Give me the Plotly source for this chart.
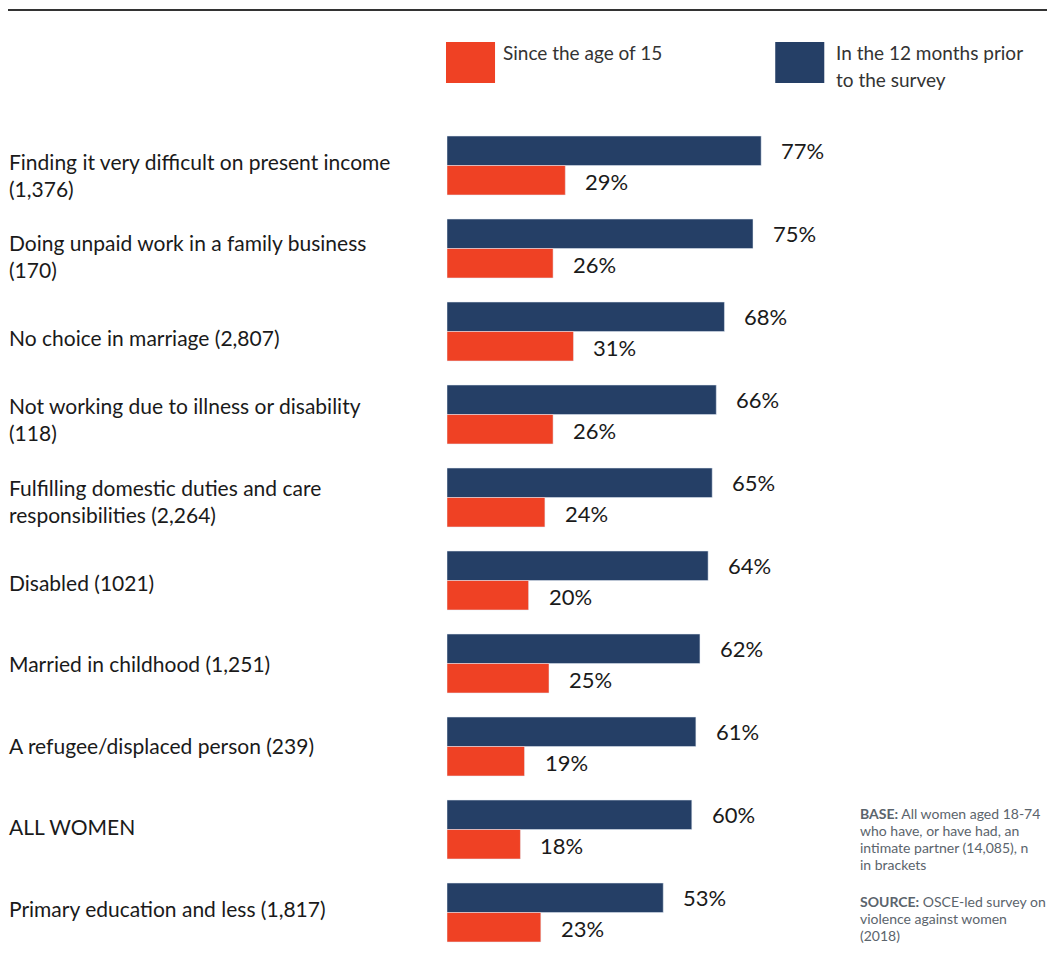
import plotly.graph_objects as go

categories = [
    "Finding it very difficult on present income\n(1,376)",
    "Doing unpaid work in a family business\n(170)",
    "No choice in marriage (2,807)",
    "Not working due to illness or disability\n(118)",
    "Fulfilling domestic duties and care\nresponsibilities (2,264)",
    "Disabled (1021)",
    "Married in childhood (1,251)",
    "A refugee/displaced person (239)",
    "ALL WOMEN",
    "Primary education and less (1,817)",
]
last_12_months = [77, 75, 68, 66, 65, 64, 62, 61, 60, 53]
since_age_15 = [29, 26, 31, 26, 24, 20, 25, 19, 18, 23]

series_names = ["Since the age of 15", "In the 12 months prior\nto the survey"]
base_note = ["<b>BASE:</b> All women aged 18-74", "who have, or have had, an",
             "intimate partner (14,085), n", "in brackets"]
source_note = ["<b>SOURCE:</b> OSCE-led survey on", "violence against women", "(2018)"]

NAVY = "#253F66"
ORANGE = "#EF4124"
FONT = "Lato, 'Open Sans', sans-serif"

OFF = 8  # page body margin
SW, SH = 1055, 966          # screen size
W, H = SW - OFF, SH - OFF   # figure size
L, T = 447 - OFF, 124 - OFF
PW, PH = 407.7, 830
R = W - L - PW
B = H - T - PH


def px_x(x):
    """screen x pixel -> paper"""
    return (x - OFF - L) / PW


def px_y(y):
    """screen y pixel -> paper"""
    return (T + PH - (y - OFF)) / PH


ids = list(range(len(categories)))

fig = go.Figure()
fig.add_trace(go.Bar(y=ids, x=last_12_months, orientation="h", marker_color=NAVY,
                     name=series_names[1], showlegend=False, hoverinfo="x"))
fig.add_trace(go.Bar(y=ids, x=since_age_15, orientation="h", marker_color=ORANGE,
                     name=series_names[0], showlegend=False, hoverinfo="x"))

annotations = []
# value labels
for i in ids:
    annotations.append(dict(x=last_12_months[i], y=i, xref="x", yref="y",
                            text=f"{last_12_months[i]}%", showarrow=False,
                            xanchor="left", yanchor="middle", xshift=18, yshift=15,
                            font=dict(family=FONT, size=22, color="#1a1a1a")))
    annotations.append(dict(x=since_age_15[i], y=i, xref="x", yref="y",
                            text=f"{since_age_15[i]}%", showarrow=False,
                            xanchor="left", yanchor="middle", xshift=18, yshift=-16,
                            font=dict(family=FONT, size=22, color="#1a1a1a")))

# category labels (on overlay axis y2)
for i, lab in enumerate(categories):
    lines = lab.split("\n")
    n = len(lines)
    for j, ln in enumerate(lines):
        annotations.append(dict(x=px_x(7), y=i, xref="paper", yref="y2",
                                text=ln, showarrow=False, xanchor="left",
                                yanchor="middle", yshift=-(j - (n - 1) / 2) * 27,
                                font=dict(family=FONT, size=21, color="#1a1a1a")))

# legend
legend_items = [(446, ORANGE, series_names[0], 501), (775, NAVY, series_names[1], 834)]
shapes = [dict(type="line", xref="paper", yref="paper", x0=px_x(0), x1=px_x(SW + 10),
               y0=px_y(10), y1=px_y(10), line=dict(color="#333333", width=2))]
for x0, col, name, tx in legend_items:
    shapes.append(dict(type="rect", xref="paper", yref="paper", x0=px_x(x0), x1=px_x(x0 + 49),
                       y0=px_y(83), y1=px_y(42), fillcolor=col, line=dict(width=0)))
    for j, ln in enumerate(name.split("\n")):
        annotations.append(dict(x=px_x(tx), y=px_y(53 + 27 * j), xref="paper", yref="paper",
                                text=ln, showarrow=False, xanchor="left", yanchor="middle",
                                font=dict(family=FONT, size=19, color="#333333")))

# notes
NOTE_SP = 16.8
for block, center in ((base_note, 839), (source_note, 918.5)):
    n = len(block)
    for j, ln in enumerate(block):
        annotations.append(dict(x=px_x(858), y=px_y(center + (j - (n - 1) / 2) * NOTE_SP),
                                xref="paper", yref="paper",
                                text=ln, showarrow=False, xanchor="left", yanchor="middle",
                                font=dict(family=FONT, size=14, color="#5b646c")))

fig.update_layout(
    width=W, height=H,
    margin=dict(l=L, r=R, t=T, b=B, pad=0),
    paper_bgcolor="white", plot_bgcolor="white",
    barmode="group", bargap=0.29, bargroupgap=0.0,
    xaxis=dict(range=[0, 100], visible=False, fixedrange=True),
    yaxis=dict(range=[9.5, -0.5], visible=False, fixedrange=True),
    yaxis2=dict(range=[9.564, -0.62], overlaying="y", visible=False, fixedrange=True),
    annotations=annotations, shapes=shapes, showlegend=False,
)

fig.write_html("out.html")
